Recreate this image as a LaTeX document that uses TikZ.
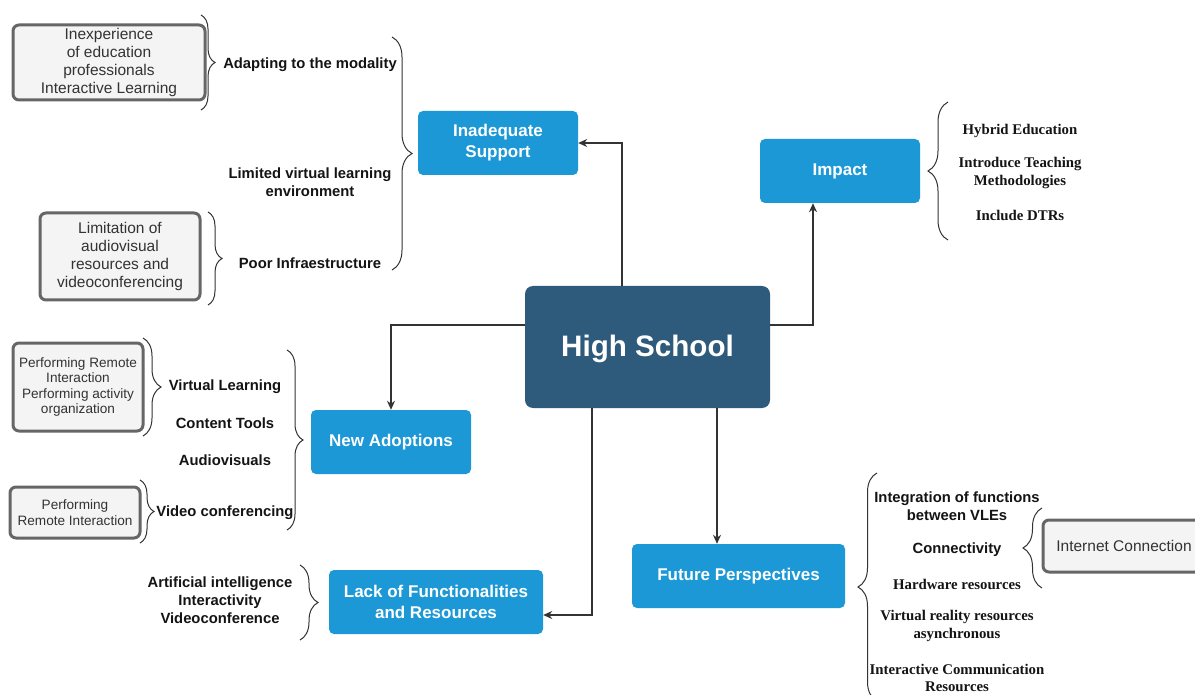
\documentclass[tikz,border=0pt]{standalone}
\usepackage{fontspec}
\setmainfont{Liberation Sans}
\newfontfamily\timesfont{Liberation Serif}
\usetikzlibrary{arrows.meta,decorations.pathreplacing}

\definecolor{hubblue}{HTML}{2E5A7C}
\definecolor{topicblue}{HTML}{1B98D5}
\definecolor{notefill}{HTML}{F4F4F4}
\definecolor{noteline}{HTML}{666666}
\definecolor{notetext}{HTML}{333333}
\definecolor{inkline}{HTML}{333333}
\definecolor{labeltext}{HTML}{141414}

\tikzset{
  hub/.style={fill=hubblue, rounded corners=8pt, text=white,
    minimum width=245pt, minimum height=122pt, text height=26pt,
    font=\fontsize{29.6}{34}\selectfont\bfseries},
  topic/.style={fill=topicblue, rounded corners=5pt, text=white, align=center,
    minimum height=64pt, font=\fontsize{17}{21}\selectfont\bfseries},
  note/.style={fill=notefill, draw=noteline, line width=3pt, rounded corners=6pt,
    text=notetext, align=center, inner sep=0pt,
    font=\fontsize{15.5}{18}\selectfont},
  smallnote/.style={note, font=\fontsize{13.6}{15.3}\selectfont},
  lbl/.style={text=labeltext, align=center, inner sep=0pt, yshift=-2pt,
    font=\fontsize{14.8}{18}\selectfont\bfseries},
  slbl/.style={text=labeltext, align=center, inner sep=0pt, yshift=-2pt,
    font=\fontsize{14.8}{17.5}\selectfont\timesfont\bfseries},
  link/.style={draw=inkline, line width=1.3pt,
    -{Stealth[length=9pt,width=8pt]}},
  brc/.style={draw=inkline, line width=1pt, decorate,
    decoration={brace, amplitude=#1}},
}

\begin{document}
\begin{tikzpicture}[x=1pt,y=-1pt]
\useasboundingbox (0,0) rectangle (1195,695);
\fill[white] (0,0) rectangle (1195,695);
\clip (0,0) rectangle (1195,695);

% central node and topics
\node[hub] (hs) at (647.5,347) {High School};
\node[topic, minimum width=160pt] (is) at (498,143) {Inadequate\\Support};
\node[topic, minimum width=160pt] (imp) at (840,171) {Impact};
\node[topic, minimum width=160pt] (na) at (391,442) {New Adoptions};
\node[topic, minimum width=214pt] (lack) at (436,602) {Lack of Functionalities\\and Resources};
\node[topic, minimum width=213pt] (fp) at (738.5,576) {Future Perspectives};

% connectors from the central node
\draw[link] ([xshift=-25.5pt]hs.north) |- (is.east);
\draw[link] ([yshift=22pt]hs.west) -| (na.north);
\draw[link] ([yshift=22pt]hs.east) -| ([xshift=-27pt]imp.south);
\draw[link] ([xshift=-55.5pt]hs.south) |- ([yshift=-13pt]lack.east);
\coordinate (fpdrop) at ([xshift=69.5pt]hs.south);
\draw[link] (fpdrop) -- (fpdrop |- fp.north);

% Inadequate Support branch
\node[lbl] (adapt) at (310,63) {Adapting to the modality};
\node[lbl] (lvle) at (310,180) {Limited virtual learning\\environment};
\node[lbl] (poor) at (310,261) {Poor Infraestructure};
\node[note, minimum width=192pt, minimum height=75pt] (inexp) at (109,62.5)
  {Inexperience\\of education\\professionals\\Interactive Learning};
\node[note, minimum width=160pt, minimum height=87pt] (limav) at (120,256.5)
  {Limitation of\\audiovisual\\resources and\\videoconferencing};
\draw[brc=20pt] (392,37) -- (392,270);
\draw[brc=14pt] (201,15) -- (201,110);
\draw[brc=14pt] (208,212) -- (208,305);

% New Adoptions branch
\node[lbl] (vl) at (225,385) {Virtual Learning};
\node[lbl] (ct) at (225,421) {Content Tools};
\node[lbl] (av) at (225,458) {Audiovisuals};
\node[lbl] (vc) at (225,511) {Video conferencing};
\node[smallnote, minimum width=130pt, minimum height=88pt] (perf1) at (78,387)
  {Performing Remote\\Interaction\\Performing activity\\organization};
\node[smallnote, minimum width=130pt, minimum height=51pt] (perf2) at (75,512.5)
  {Performing\\Remote Interaction};
\draw[brc=16pt] (287,350) -- (287,530);
\draw[brc=18pt] (143,338) -- (143,436);
\draw[brc=14pt] (140,480) -- (140,543);

% Lack of Functionalities branch
\node[lbl] (ai) at (220,598) {Artificial intelligence\\Interactivity\\Videoconference};
\draw[brc=18pt] (300,565) -- (300,640);

% Impact branch
\node[slbl] (hyb) at (1020,129) {Hybrid Education};
\node[slbl] (itm) at (1020,171) {Introduce Teaching\\Methodologies};
\node[slbl] (dtr) at (1020,213) {Include DTRs};
\draw[brc=20pt] (948,240) -- (948,102);

% Future Perspectives branch
\node[lbl] (integ) at (957,504) {Integration of functions\\between VLEs};
\node[lbl] (conn) at (957,548) {Connectivity};
\node[slbl] (hw) at (957,582) {Hardware resources};
\node[slbl] (vr) at (957,624) {Virtual reality resources\\asynchronous};
\node[slbl] (icr) at (957,676) {Interactive Communication\\Resources};
\node[note, minimum width=162pt, minimum height=52pt] (inet) at (1124,546)
  {Internet Connection};
\draw[brc=19pt] (877,701) -- (877,473);
\draw[brc=19pt] (1042,588) -- (1042,508);
\end{tikzpicture}
\end{document}
